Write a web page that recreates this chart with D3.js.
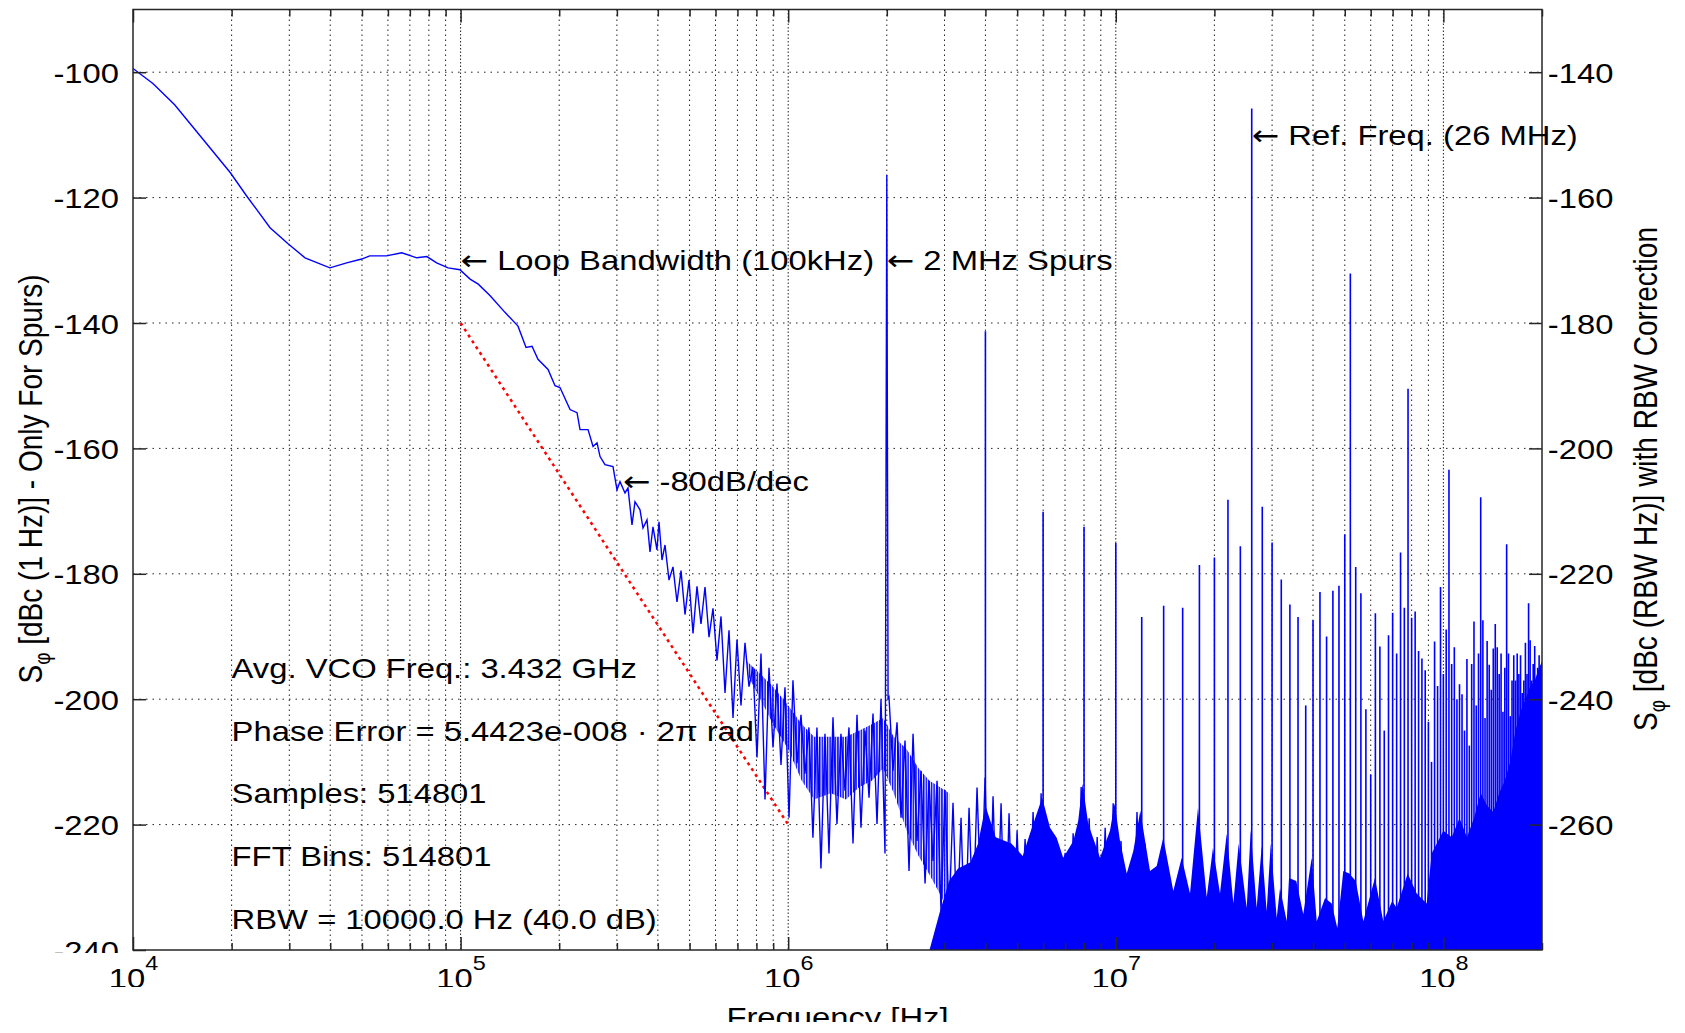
<!DOCTYPE html>
<html>
<head>
<meta charset="utf-8">
<script src="https://cdn.jsdelivr.net/npm/d3@7"></script>
<style>
  body { margin: 0; background: #fff; }
  text { font-family: "Liberation Sans", Arial, sans-serif; fill: #000; }
</style>
</head>
<body>
<div id="chart"></div>
<script>
// phase noise trace (kHz, dBc)
const traceKHz = [
  10, 11.5, 13.4, 16.0, 19.8, 22.2, 26.2, 29.8, 33.5, 39.9, 44.9, 49.9, 52.8, 59.4, 66.1, 73.5, 78.9, 84.5, 91.6, 99.5,
  106.9, 113.2, 122.9, 136.6, 149.7, 158.4, 165.2, 172.3, 184.9, 194.2, 201.1, 215.8, 226.7, 231.5, 244.9, 253.7, 260.9,
  266.5, 275.9, 291.9, 300.2, 306.6, 317.6, 324.3, 333.6, 340.7, 352.9, 360.4, 370.7, 378.6, 386.6, 397.6, 403.3, 411.9,
  420.7, 432.7, 445.0, 457.7, 470.8, 484.2, 498.0, 512.2, 526.8, 541.8, 557.3, 573.2, 589.5, 606.3, 623.6, 641.4, 659.7,
  678.5, 697.8, 717.7, 738.2, 759.2, 780.9, 803.1, 826.0, 849.6, 873.8, 898.7, 924.3, 950.7, 977.8, 1006, 1034, 1064,
  1094, 1125, 1157, 1190, 1224, 1259, 1295, 1332, 1370, 1409, 1449, 1491, 1533, 1577, 1622, 1668, 1716, 1765, 1815,
  1867, 1920, 1975, 1981, 1990, 2000, 2009, 2018,
  2031, 2089, 2149, 2210, 2273, 2338, 2405, 2473, 2544, 2617, 2691, 2767, 2847, 2928, 3011, 3097, 3185, 3276, 3370,
  3466, 3565, 3667, 3771, 3879, 3990, 4103, 4220, 4341, 4465, 4592, 4723, 4858, 4997, 5139, 5286, 5437, 5592, 5752,
  5916, 6085, 6258, 6437, 6621, 6810, 7004, 7204, 7410, 7621, 7839, 8063, 8293, 8530, 8773, 9024, 9281, 9546, 9819,
  10099, 10372, 10668, 10973, 11286, 11608, 11939, 12280, 12631
];
const traceDb = [
  -99.4, -101.8, -105.2, -110.1, -116.0, -119.7, -124.8, -127.4, -129.6, -131.2, -130.4, -129.8, -129.3, -129.3, -128.8,
  -129.6, -129.4, -130.4, -131.2, -131.5,
  -133.0, -133.8, -135.6, -138.3, -140.5, -143.9, -143.7, -145.8, -147.4, -150.0, -150.3, -153.8, -154.3, -157.0, -157.0,
  -159.7, -159.1, -161.3, -162.6, -162.9, -166.6, -165.3, -167.1, -166.3, -172.2, -168.5, -169.8, -172.7, -171.4, -176.5,
  -172.5, -176.2, -171.7, -177.8,
  -175.4, -181, -178.9, -184.5, -179.5, -186.5, -181, -189.5, -182, -188, -182.1, -190.1, -185.5, -193.8, -186.8, -199,
  -189, -203, -190.5, -201, -191, -198, -194.9, -209.3, -192.7, -216, -195, -207.7, -197.5, -210.5, -198.1, -218.9,
  -197, -210.2, -202.5, -211.9, -204.5, -222.1, -204.5, -227, -205.5, -224.6, -202.9, -219.9, -205.5, -214.6, -204.5,
  -223, -202.5, -220.5, -205, -215.7, -202.3, -219.9, -200, -224.6,
  -201, -160, -116.4, -160, -200,
  -199.7, -211.4, -203.7, -218.9, -206.6, -227.4, -205.5, -222.6, -211.4, -229.4, -213, -225.8, -213, -233.8, -214.5,
  -234.9, -216.5, -237, -218.9, -240, -217.3, -235.8, -214.1, -233.3, -212.5, -238.6, -215.5, -237.4, -216.6, -240,
  -218.2, -240, -221, -238, -222.3, -236.5, -218, -240, -215, -238, -221, -240, -224, -240, -224.5, -240, -221.4, -240,
  -214, -238, -219, -240, -222, -240, -220.5, -240, -216.6, -237, -222.6, -240, -227.8, -240, -218, -240, -223, -240
];

// spurs (MHz, peak dBc)
const spurMHz = [
  4, 6, 8, 10, 12, 14, 16, 18, 20, 22, 24, 26, 28, 30, 32, 34, 36, 38, 40, 42, 44, 46, 48, 50, 52, 54, 56, 58, 60, 62,
  64, 66, 68, 70, 72, 74, 76, 78, 80, 82, 84, 86, 88, 90, 92, 94, 96, 98, 100, 102, 104, 106, 108, 110, 112, 114, 116,
  118, 120, 122, 124, 126, 128, 130, 132, 134, 136, 138, 140, 142, 144, 146, 148, 150, 152, 154, 156, 158, 160, 162,
  164, 166, 168, 170, 172, 174, 176, 178, 180, 182, 184, 186, 188, 190, 192, 194, 196, 198, 200
];
const spurDb = [
  -141.3, -170.1, -172.5, -175.1, -186.9, -185.1, -185.4, -178.6, -177.4, -168.2,
  -175.6, -105.8, -169.3, -175.0, -180.9, -184.9, -186.9, -201.0, -187.4, -182.9,
  -190.0, -182.7, -181.9, -173.7, -132.1, -178.9, -183.1, -201.6, -212.0, -186.3,
  -191.6, -205.0, -189.8, -186.2, -192.7, -176.6, -185.4, -150.5, -187.0, -186.0,
  -192.3, -193.5, -195.4, -203.6, -210.0, -190.8, -197.9, -182.1, -196.0, -188.9,
  -163.4, -194.4, -191.7, -200.0, -197.6, -199.2, -205.0, -193.6, -207.4, -194.4,
  -187.6, -201.0, -192.7, -167.8, -187.4, -203.0, -190.7, -194.5, -198.5, -191.9,
  -188.0, -191.7, -196.0, -192.7, -202.0, -195.0, -175.3, -192.7, -202.7, -197.0,
  -193.0, -197.0, -192.7, -196.0, -193.0, -199.0, -197.0, -191.0, -196.0, -184.7,
  -190.6, -197.0, -194.4, -191.5, -199.0, -195.0, -193.0, -197.0, -195.0
];

// busy middle of the noise between 0.75 and 3.1 MHz (MHz, dBc upper / lower)
const coreMHz = [0.75, 0.9, 1.0, 1.1, 1.2, 1.35, 1.5, 1.65, 1.8, 1.95, 2.1, 2.3, 2.5, 2.7, 2.9, 3.1];
const coreTop = [-194, -198, -201, -204, -206, -206, -206, -205, -204, -203, -206, -208, -211, -213, -214, -215];
const coreBottom = [-196, -204, -208, -213, -216, -215, -216, -214, -213, -211, -215, -221, -225, -228, -231, -234];

// solid noise floor from about 3 MHz up (MHz, dBc)
const floorMHz = [
  2.7, 2.9, 3.1, 3.3, 3.6, 3.8, 4.0, 4.3, 4.8, 5.2,
  5.47, 5.96, 6.3, 6.6, 6.91, 7.42, 7.68, 7.92, 8.24, 8.95, 9.6, 9.92, 10.3, 10.8, 11.31, 11.88, 12.43, 12.72,
  13.33, 13.96, 14.98, 15.89, 16.85, 17.82, 18.95, 19.8, 20.8, 21.81, 22.85, 23.72, 25.1, 25.81, 26.92, 27.89, 28.88,
  29.71, 30.99, 31.72, 33.25, 33.79, 35.56, 37.35, 39.63, 41.06, 43.52, 45.6, 47.44, 49.48, 51.61, 54, 56.96, 61.8,
  65.55, 69.8, 72, 77.8, 82.9, 88.9, 92.1, 100, 106, 112, 118, 124, 130, 136, 142, 148, 154, 160, 166, 172, 178, 184,
  190, 196, 200
];
const floorDb = [
  -240, -234, -229, -227, -226, -223, -217, -222, -223, -225,
  -221.4, -215.7, -220.5, -222.1, -225.3, -222.6, -219.4, -213.5, -219.9, -225.3, -221, -216.6, -222.6, -227.8, -224.2,
  -217.8, -224.2, -227.4, -226.6, -222.1, -230.6, -225.3, -231, -217.3, -231.6, -223.7, -231, -221.4, -232.6, -223,
  -233.3, -220.9, -233.3, -223.4, -233.8, -223, -234.9, -230.1, -235.4, -228.5, -229, -234.3, -225.3, -235.4, -231.7,
  -232.6, -236.5, -227.4, -227.8, -229, -235.4, -228.5, -235.4, -232.2, -233.3, -227.8, -231, -232.6, -224.6, -221,
  -222, -219, -222, -219, -215, -217, -218, -215, -213, -210, -205, -202, -200, -198, -197, -195, -194
];

// -80 dB/dec reference
const slopeKHz = [100, 1000];
const slopeDb = [-140, -220];

const leftTicks = [-240, -220, -200, -180, -160, -140, -120, -100];
const rightTicks = [-260, -240, -220, -200, -180, -160, -140];
const decadeTicks = [1e4, 1e5, 1e6, 1e7, 1e8];

const noteText = ["Loop Bandwidth (100kHz)", "2 MHz Spurs", "-80dB/dec", "Ref. Freq. (26 MHz)"];
const noteHz = [1e5, 2e6, 3.13e5, 2.6e7];
const noteDb = [-130, -130, -165.2, -110];

const infoText = [
  "Avg. VCO Freq.: 3.432 GHz",
  "Phase Error = 5.4423e-008 \u00b7 2\u03c0 rad",
  "Samples: 514801",
  "FFT Bins: 514801",
  "RBW = 10000.0 Hz (40.0 dB)"
];
const infoDb = [-195, -205, -215, -225, -235];
const infoHz = 2e4;

const width = 1685, height = 1033;
const m = { left: 133, right: 1542, top: 9.5, bottom: 950 };
const sx = 1.17; // the exported figure text is a bit wide

const svg = d3.select("#chart").append("svg")
  .attr("width", width).attr("height", height)
  .style("display", "block");

const x = d3.scaleLog().domain([1e4, 2e8]).range([m.left, m.right]);
const y = d3.scaleLinear().domain([-240, -90]).range([m.bottom, m.top]);
const yR = d3.scaleLinear().domain([-280, -130]).range([m.bottom, m.top]);

const isDecade = d => Math.abs(Math.log10(d) - Math.round(Math.log10(d))) < 1e-9;
const minorTicks = x.ticks().filter(d => !isDecade(d));

const defs = svg.append("defs");
const addClip = (id, x0, y0, w, h) => defs.append("clipPath").attr("id", id)
  .append("rect").attr("x", x0).attr("y", y0).attr("width", w).attr("height", h);
addClip("plot-clip", m.left, m.top, m.right - m.left, m.bottom - m.top);
addClip("left-clip", 0, 0, m.left + 20, 953);
addClip("bottom-clip", 0, 0, width, 987);
addClip("label-clip", 0, 0, width, 1022);

// thin vertical strokes, like the crowded FFT bins
defs.append("pattern").attr("id", "bins")
  .attr("patternUnits", "userSpaceOnUse")
  .attr("width", 2.6).attr("height", 10)
  .append("rect").attr("width", 1.5).attr("height", 10).attr("fill", "#0000ff");

// grid
const grid = svg.append("g").attr("stroke", "#222").attr("stroke-width", 1).attr("fill", "none");
grid.selectAll(".gx")
  .data(x.ticks().filter(d => d > 1e4 && d < 2e8))
  .join("line")
  .attr("x1", d => x(d)).attr("x2", d => x(d))
  .attr("y1", m.top).attr("y2", m.bottom)
  .attr("stroke-dasharray", d => isDecade(d) ? "1.5,2" : "1.5,3.5");
grid.selectAll(".gy")
  .data(leftTicks.filter(d => d > -240))
  .join("line")
  .attr("x1", m.left).attr("x2", m.right)
  .attr("y1", d => y(d)).attr("y2", d => y(d))
  .attr("stroke-dasharray", "1.5,5");

// data
const plot = svg.append("g").attr("clip-path", "url(#plot-clip)");

plot.append("path")
  .datum(d3.zip(slopeKHz, slopeDb))
  .attr("fill", "none")
  .attr("stroke", "#ff0000")
  .attr("stroke-width", 2.5)
  .attr("stroke-dasharray", "3,4")
  .attr("d", d3.line().x(d => x(d[0] * 1e3)).y(d => y(d[1])));

plot.append("path")
  .datum(d3.zip(coreMHz, coreTop, coreBottom))
  .attr("fill", "url(#bins)")
  .attr("d", d3.area().x(d => x(d[0] * 1e6)).y0(d => y(d[2])).y1(d => y(d[1])));

plot.append("path")
  .datum(d3.zip(floorMHz, floorDb))
  .attr("fill", "#0000ff")
  .attr("d", d3.area().x(d => x(d[0] * 1e6)).y0(y(-240)).y1(d => y(d[1])));

plot.append("path")
  .datum(d3.zip(traceKHz, traceDb))
  .attr("fill", "none")
  .attr("stroke", "#0000ff")
  .attr("stroke-width", 1.4)
  .attr("d", d3.line().x(d => x(d[0] * 1e3)).y(d => y(d[1])));

plot.selectAll(".spur")
  .data(d3.zip(spurMHz, spurDb))
  .join("line")
  .attr("x1", d => x(d[0] * 1e6)).attr("x2", d => x(d[0] * 1e6))
  .attr("y1", y(-240)).attr("y2", d => y(d[1]))
  .attr("stroke", "#0000ff")
  .attr("stroke-width", 1.6);

// axes
const axisStyle = g => {
  g.attr("font-size", null).attr("font-family", null);
  g.select(".domain").remove();
  g.selectAll(".tick line").attr("stroke", "#262626").attr("stroke-width", 1.5);
  g.selectAll(".tick text").style("font-size", "28px");
};

svg.append("g").attr("clip-path", "url(#left-clip)")
  .append("g").attr("transform", `translate(${m.left},0)`)
  .call(d3.axisLeft(y).tickValues(leftTicks).tickSize(-13).tickPadding(12).tickFormat(d => String(d)))
  .call(axisStyle)
  .call(g => g.selectAll(".tick text").attr("dy", "0.36em").attr("transform", `scale(${sx},1)`));

svg.append("g").attr("transform", `translate(${m.right},0)`)
  .call(d3.axisRight(yR).tickValues(rightTicks).tickSize(-13).tickPadding(5).tickFormat(d => String(d)))
  .call(axisStyle)
  .call(g => g.selectAll(".tick text").attr("dy", "0.36em").attr("transform", `scale(${sx},1)`));

svg.append("g").attr("transform", `translate(0,${m.top})`)
  .call(d3.axisTop(x).tickValues(minorTicks).tickSize(-7).tickFormat(""))
  .call(axisStyle);
svg.append("g").attr("transform", `translate(0,${m.top})`)
  .call(d3.axisTop(x).tickValues(decadeTicks).tickSize(-13).tickFormat(""))
  .call(axisStyle);

const bottom = svg.append("g").attr("clip-path", "url(#bottom-clip)");
bottom.append("g").attr("transform", `translate(0,${m.bottom})`)
  .call(d3.axisBottom(x).tickValues(minorTicks).tickSize(-7).tickFormat(""))
  .call(axisStyle);
bottom.append("g").attr("transform", `translate(0,${m.bottom})`)
  .call(d3.axisBottom(x).tickValues(decadeTicks).tickSize(-13).tickFormat(""))
  .call(axisStyle)
  .call(g => g.selectAll(".tick text").each(function(d) {
    const t = d3.select(this)
      .attr("y", 38).attr("dy", null)
      .attr("transform", `scale(${sx},1)`);
    t.append("tspan").text("10");
    t.append("tspan").attr("dy", -18).style("font-size", "20px").text(Math.round(Math.log10(d)));
  }));

// plot box
svg.append("rect")
  .attr("x", m.left).attr("y", m.top)
  .attr("width", m.right - m.left).attr("height", m.bottom - m.top)
  .attr("fill", "none").attr("stroke", "#262626").attr("stroke-width", 1.5);

// axis titles
const yTitle = (cx, rest) => {
  const t = svg.append("text")
    .attr("transform", `translate(${cx},479) rotate(-90) scale(1,${sx})`)
    .attr("text-anchor", "middle")
    .style("font-size", "28px");
  t.append("tspan").text("S");
  t.append("tspan").attr("dy", 7).style("font-size", "19px").text("\u03c6");
  t.append("tspan").attr("dy", -7).text(rest);
};
yTitle(42, " [dBc (1 Hz)] - Only For Spurs)");
yTitle(1657, " [dBc (RBW Hz)] with RBW Correction");

svg.append("g").attr("clip-path", "url(#label-clip)")
  .append("text")
  .attr("transform", `translate(${(m.left + m.right) / 2},1027) scale(${sx},1)`)
  .attr("text-anchor", "middle")
  .style("font-size", "28px")
  .text("Frequency [Hz]");

// annotations, each led by an arrow pointing at the feature
svg.selectAll(".note")
  .data(d3.zip(noteText, noteHz, noteDb))
  .join("text")
  .attr("transform", d => `translate(${x(d[1])},${y(d[2])}) scale(${sx},1)`)
  .attr("dy", "0.36em")
  .style("font-size", "28px")
  .each(function(d) {
    const t = d3.select(this);
    t.append("tspan").style("font-family", "'DejaVu Sans'").text("\u2190");
    t.append("tspan").text(" " + d[0]);
  });

svg.selectAll(".info")
  .data(d3.zip(infoText, infoDb))
  .join("text")
  .attr("transform", d => `translate(${x(infoHz)},${y(d[1])}) scale(${sx},1)`)
  .attr("dy", "0.36em")
  .style("font-size", "28px")
  .text(d => d[0]);
</script>
</body>
</html>
